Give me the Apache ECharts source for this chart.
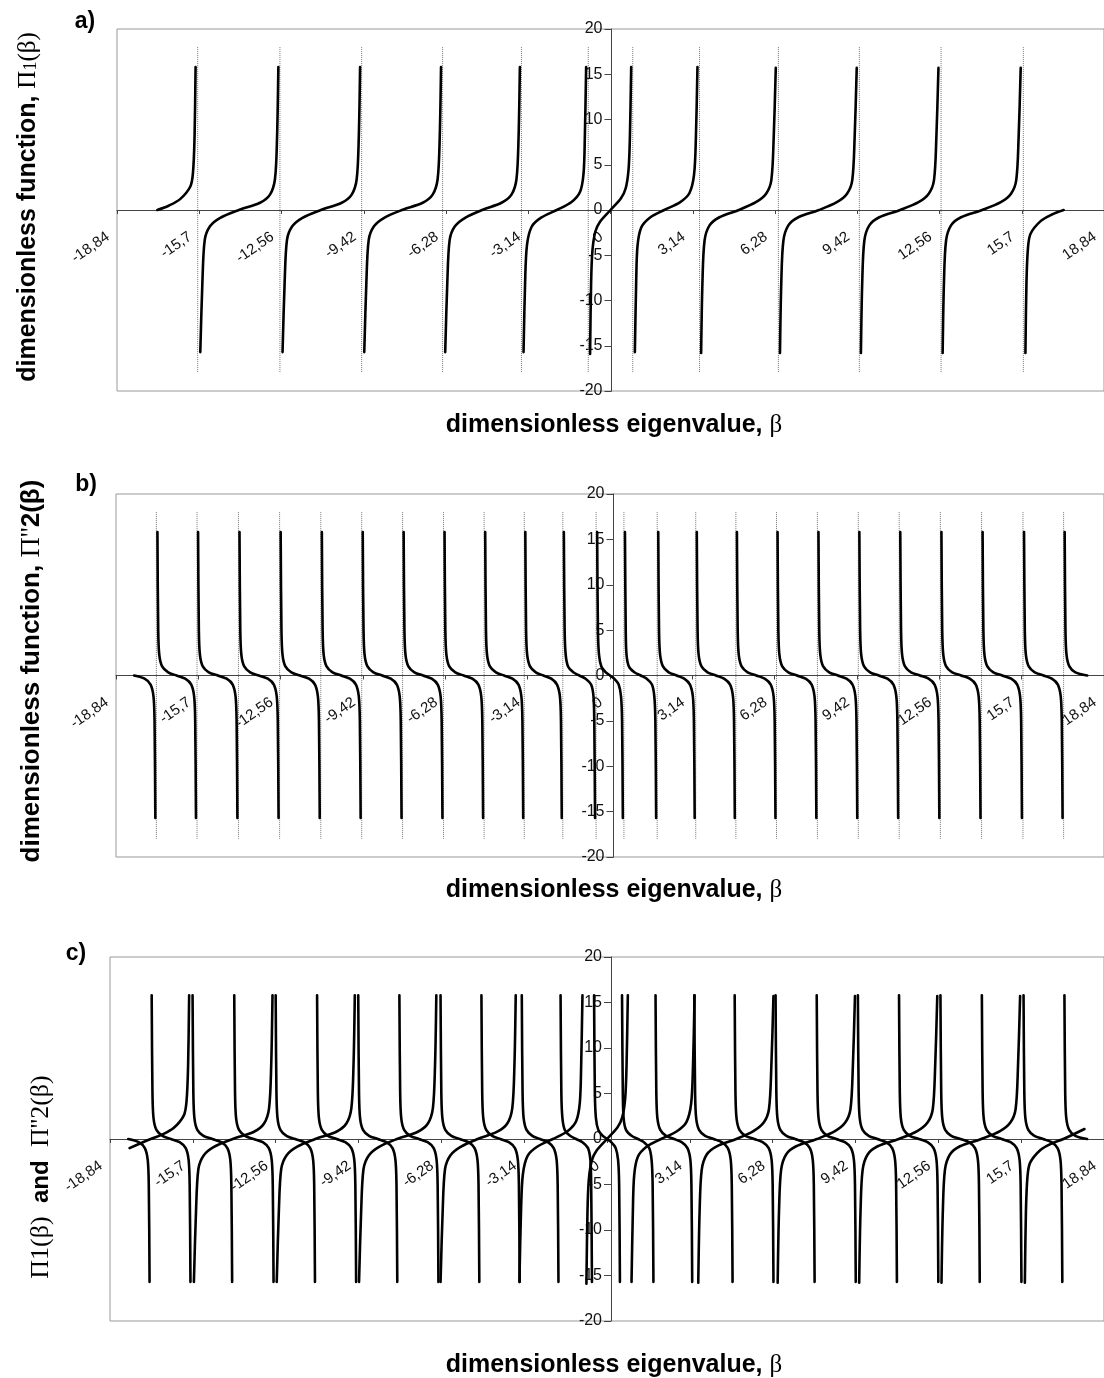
<!DOCTYPE html>
<html>
<head>
<meta charset="utf-8">
<script src="https://cdn.jsdelivr.net/npm/echarts@6/dist/echarts.min.js"></script>
<style>
  html, body { margin: 0; padding: 0; background: #fff; }
  #container { width: 1104px; height: 1378px; }
</style>
</head>
<body>
<div id="container"></div>
<script>
// x positions of the poles (dotted guide lines) read off panels a) and b)
var pi1Poles = [-15.76, -12.62, -9.5, -6.41, -3.4, -0.85, 0.85, 3.4, 6.41, 9.5, 12.62, 15.76];
var pi2Poles = [-17.3, -15.75, -14.17, -12.6, -11.03, -9.47, -7.91, -6.35, -4.8, -3.27, -1.8, -0.53,
                0.53, 1.8, 3.27, 4.8, 6.35, 7.91, 9.47, 11.03, 12.6, 14.17, 15.75, 17.3];
var poleSpan = [18, -18];

// Π1(β), one array of [β, value] per branch
var pi1Branches = [
  [[-17.3, 0], [-16.85, 0.5], [-16.43, 1.2], [-16.04, 2.6], [-15.94, 4.1], [-15.88, 8], [-15.84, 15.8]],
  [[-15.66, -15.7], [-15.58, -8], [-15.49, -3.3], [-15.29, -1.8], [-14.9, -0.86], [-14.19, 0], [-13.38, 0.8], [-13.0, 1.7], [-12.81, 3.4], [-12.73, 8], [-12.68, 15.8]],
  [[-12.52, -15.7], [-12.44, -8], [-12.35, -3.3], [-12.15, -1.8], [-11.76, -0.86], [-11.06, 0], [-10.26, 0.8], [-9.88, 1.7], [-9.69, 3.4], [-9.61, 8], [-9.56, 15.8]],
  [[-9.4, -15.7], [-9.32, -8], [-9.23, -3.3], [-9.03, -1.8], [-8.64, -0.86], [-7.96, 0], [-7.17, 0.8], [-6.79, 1.7], [-6.6, 3.4], [-6.52, 8], [-6.47, 15.8]],
  [[-6.31, -15.7], [-6.23, -8], [-6.14, -3.3], [-5.94, -1.8], [-5.55, -0.86], [-4.9, 0], [-4.16, 0.8], [-3.78, 1.7], [-3.59, 3.4], [-3.51, 8], [-3.46, 15.8]],
  [[-3.32, -15.7], [-3.26, -8], [-3.19, -3.9], [-3.01, -1.85], [-2.65, -0.85], [-2.05, 0], [-1.5, 0.85], [-1.17, 1.95], [-1.03, 4.0], [-0.98, 8], [-0.93, 15.8]],
  [[-0.78, -15.9], [-0.74, -8], [-0.69, -4.5], [-0.58, -2.4], [-0.4, -1.3], [0, 0], [0.4, 1.3], [0.58, 2.4], [0.69, 4.5], [0.74, 8], [0.79, 15.8]],
  [[0.93, -15.7], [0.98, -8], [1.03, -4.0], [1.17, -1.95], [1.5, -0.85], [2.05, 0], [2.65, 0.85], [3.01, 1.85], [3.19, 3.9], [3.26, 8], [3.32, 15.8]],
  [[3.46, -15.8], [3.51, -8], [3.59, -3.4], [3.78, -1.7], [4.16, -0.8], [4.9, 0], [5.55, 0.86], [5.94, 1.8], [6.14, 3.3], [6.23, 8], [6.31, 15.7]],
  [[6.47, -15.8], [6.52, -8], [6.6, -3.4], [6.79, -1.7], [7.17, -0.8], [7.96, 0], [8.64, 0.86], [9.03, 1.8], [9.23, 3.3], [9.32, 8], [9.4, 15.7]],
  [[9.56, -15.8], [9.61, -8], [9.69, -3.4], [9.88, -1.7], [10.26, -0.8], [11.06, 0], [11.76, 0.86], [12.15, 1.8], [12.35, 3.3], [12.44, 8], [12.52, 15.7]],
  [[12.68, -15.8], [12.73, -8], [12.81, -3.4], [13.0, -1.7], [13.38, -0.8], [14.19, 0], [14.9, 0.86], [15.29, 1.8], [15.49, 3.3], [15.58, 8], [15.66, 15.7]],
  [[15.84, -15.8], [15.88, -8], [15.94, -4.1], [16.04, -2.6], [16.43, -1.2], [16.85, -0.5], [17.3, 0]]
];
// panel c) draws Π1 a little further at both ends
var pi1TailsC = [[-18.1, -1.0], [18.1, 1.1]];

// Π''2(β), one array of [β, value] per branch
var pi2Branches = [
  [[-18.15, 0], [-17.75, -0.35], [-17.52, -1.0], [-17.41, -2.3], [-17.37, -5], [-17.34, -15.7]],
  [[-17.26, 15.8], [-17.23, 5], [-17.19, 2.3], [-17.08, 1.0], [-16.85, 0.35], [-16.53, 0], [-16.2, -0.35], [-15.97, -1.0], [-15.86, -2.3], [-15.82, -5], [-15.79, -15.7]],
  [[-15.71, 15.8], [-15.68, 5], [-15.64, 2.3], [-15.53, 1.0], [-15.3, 0.35], [-14.96, 0], [-14.62, -0.35], [-14.39, -1.0], [-14.28, -2.3], [-14.24, -5], [-14.21, -15.7]],
  [[-14.13, 15.8], [-14.1, 5], [-14.06, 2.3], [-13.95, 1.0], [-13.72, 0.35], [-13.39, 0], [-13.05, -0.35], [-12.82, -1.0], [-12.71, -2.3], [-12.67, -5], [-12.64, -15.7]],
  [[-12.56, 15.8], [-12.53, 5], [-12.49, 2.3], [-12.38, 1.0], [-12.15, 0.35], [-11.82, 0], [-11.48, -0.35], [-11.25, -1.0], [-11.14, -2.3], [-11.1, -5], [-11.07, -15.7]],
  [[-10.99, 15.8], [-10.96, 5], [-10.92, 2.3], [-10.81, 1.0], [-10.58, 0.35], [-10.25, 0], [-9.92, -0.35], [-9.69, -1.0], [-9.58, -2.3], [-9.54, -5], [-9.51, -15.7]],
  [[-9.43, 15.8], [-9.4, 5], [-9.36, 2.3], [-9.25, 1.0], [-9.02, 0.35], [-8.69, 0], [-8.36, -0.35], [-8.13, -1.0], [-8.02, -2.3], [-7.98, -5], [-7.95, -15.7]],
  [[-7.87, 15.8], [-7.84, 5], [-7.8, 2.3], [-7.69, 1.0], [-7.46, 0.35], [-7.13, 0], [-6.8, -0.35], [-6.57, -1.0], [-6.46, -2.3], [-6.42, -5], [-6.39, -15.7]],
  [[-6.31, 15.8], [-6.28, 5], [-6.24, 2.3], [-6.13, 1.0], [-5.9, 0.35], [-5.58, 0], [-5.25, -0.35], [-5.02, -1.0], [-4.91, -2.3], [-4.87, -5], [-4.84, -15.7]],
  [[-4.76, 15.8], [-4.73, 5], [-4.69, 2.3], [-4.58, 1.0], [-4.35, 0.35], [-4.04, 0], [-3.72, -0.35], [-3.49, -1.0], [-3.38, -2.3], [-3.34, -5], [-3.31, -15.7]],
  [[-3.23, 15.8], [-3.2, 5], [-3.16, 2.3], [-3.05, 1.0], [-2.83, 0.35], [-2.54, 0], [-2.24, -0.35], [-2.02, -1.0], [-1.91, -2.3], [-1.87, -5], [-1.84, -15.7]],
  [[-1.76, 15.8], [-1.73, 5], [-1.69, 2.3], [-1.6, 1.0], [-1.4, 0.35], [-1.17, 0], [-0.93, -0.35], [-0.72, -1.0], [-0.63, -2.3], [-0.6, -5], [-0.57, -15.7]],
  [[-0.49, 15.8], [-0.46, 5], [-0.42, 2.3], [-0.33, 1.0], [-0.16, 0.35], [0, 0], [0.16, -0.35], [0.33, -1.0], [0.42, -2.3], [0.46, -5], [0.49, -15.7]],
  [[0.57, 15.8], [0.6, 5], [0.63, 2.3], [0.72, 1.0], [0.93, 0.35], [1.17, 0], [1.4, -0.35], [1.6, -1.0], [1.69, -2.3], [1.73, -5], [1.76, -15.7]],
  [[1.84, 15.8], [1.87, 5], [1.91, 2.3], [2.02, 1.0], [2.24, 0.35], [2.54, 0], [2.83, -0.35], [3.05, -1.0], [3.16, -2.3], [3.2, -5], [3.23, -15.7]],
  [[3.31, 15.8], [3.34, 5], [3.38, 2.3], [3.49, 1.0], [3.72, 0.35], [4.04, 0], [4.35, -0.35], [4.58, -1.0], [4.69, -2.3], [4.73, -5], [4.76, -15.7]],
  [[4.84, 15.8], [4.87, 5], [4.91, 2.3], [5.02, 1.0], [5.25, 0.35], [5.58, 0], [5.9, -0.35], [6.13, -1.0], [6.24, -2.3], [6.28, -5], [6.31, -15.7]],
  [[6.39, 15.8], [6.42, 5], [6.46, 2.3], [6.57, 1.0], [6.8, 0.35], [7.13, 0], [7.46, -0.35], [7.69, -1.0], [7.8, -2.3], [7.84, -5], [7.87, -15.7]],
  [[7.95, 15.8], [7.98, 5], [8.02, 2.3], [8.13, 1.0], [8.36, 0.35], [8.69, 0], [9.02, -0.35], [9.25, -1.0], [9.36, -2.3], [9.4, -5], [9.43, -15.7]],
  [[9.51, 15.8], [9.54, 5], [9.58, 2.3], [9.69, 1.0], [9.92, 0.35], [10.25, 0], [10.58, -0.35], [10.81, -1.0], [10.92, -2.3], [10.96, -5], [10.99, -15.7]],
  [[11.07, 15.8], [11.1, 5], [11.14, 2.3], [11.25, 1.0], [11.48, 0.35], [11.82, 0], [12.15, -0.35], [12.38, -1.0], [12.49, -2.3], [12.53, -5], [12.56, -15.7]],
  [[12.64, 15.8], [12.67, 5], [12.71, 2.3], [12.82, 1.0], [13.05, 0.35], [13.39, 0], [13.72, -0.35], [13.95, -1.0], [14.06, -2.3], [14.1, -5], [14.13, -15.7]],
  [[14.21, 15.8], [14.24, 5], [14.28, 2.3], [14.39, 1.0], [14.62, 0.35], [14.96, 0], [15.3, -0.35], [15.53, -1.0], [15.64, -2.3], [15.68, -5], [15.71, -15.7]],
  [[15.79, 15.8], [15.82, 5], [15.86, 2.3], [15.97, 1.0], [16.2, 0.35], [16.53, 0], [16.85, -0.35], [17.08, -1.0], [17.19, -2.3], [17.23, -5], [17.26, -15.7]],
  [[17.34, 15.8], [17.37, 5], [17.41, 2.3], [17.52, 1.0], [17.75, 0.35], [18.2, 0]]
];

var SANS = '"Liberation Sans", Arial, sans-serif';
var SERIF = '"Liberation Serif", "Times New Roman", serif';

// plot boxes of the three panels (pixels)
var boxes = [
  { left: 117, top: 29, width: 989, height: 362 },
  { left: 116, top: 494, width: 995, height: 363 },
  { left: 110, top: 957, width: 1002, height: 364 }
];

function joinBranches(branches) {
  var out = [];
  branches.forEach(function (b, i) {
    if (i > 0) out.push([null, null]);
    b.forEach(function (p) { out.push(p); });
  });
  return out;
}

function poleSegments(poles) {
  var out = [];
  poles.forEach(function (x, i) {
    if (i > 0) out.push([null, null]);
    out.push([x, poleSpan[0]], [x, poleSpan[1]]);
  });
  return out;
}

function betaLabel(v) {
  return String(Math.round(v * 100) / 100).replace('.', ',');
}

// axes cross in the middle of each box; offsets pull the labels there too
function xAxisFor(gi) {
  return {
    gridIndex: gi, type: 'value', min: -18.84, max: 18.84, interval: 3.14,
    position: 'bottom', offset: -boxes[gi].height / 2,
    axisLine: { onZero: false, lineStyle: { color: '#444', width: 1 } },
    axisTick: { show: true, length: 4, lineStyle: { color: '#444' } },
    axisLabel: {
      rotate: 35, margin: 19, padding: [0, 11, 0, 0],
      fontSize: 15, color: '#111', fontFamily: SANS, formatter: betaLabel
    },
    splitLine: { show: false }
  };
}

function yAxisFor(gi) {
  return {
    gridIndex: gi, type: 'value', min: -20, max: 20, interval: 5,
    position: 'left', offset: -boxes[gi].width / 2,
    axisLine: { onZero: false, lineStyle: { color: '#444', width: 1 } },
    axisTick: { show: true, length: 7, lineStyle: { color: '#444' } },
    axisLabel: { margin: 9, fontSize: 16, color: '#111', fontFamily: SANS },
    splitLine: { show: false }
  };
}

function curve(gi, data) {
  return {
    type: 'line', xAxisIndex: gi, yAxisIndex: gi, data: data,
    showSymbol: false, symbol: 'none', smooth: 0.3,
    connectNulls: false, silent: true, z: 3,
    lineStyle: { color: '#000', width: 2.6, join: 'round', cap: 'round' }
  };
}

function guides(gi, poles) {
  return {
    type: 'line', xAxisIndex: gi, yAxisIndex: gi, data: poleSegments(poles),
    showSymbol: false, symbol: 'none', connectNulls: false, silent: true, z: 1,
    lineStyle: { color: '#777', width: 1, type: 'dotted' }
  };
}

function xTitle(y) {
  return {
    type: 'text', x: 614, y: y,
    style: {
      text: '{b|dimensionless eigenvalue, }{g|β}',
      align: 'center', verticalAlign: 'middle',
      rich: {
        b: { font: 'bold 25px ' + SANS, fill: '#000' },
        g: { font: '25px ' + SERIF, fill: '#000' }
      }
    }
  };
}

function panelTag(text, x, y) {
  return {
    type: 'text', x: x, y: y,
    style: { text: text, font: 'bold 23px ' + SANS, fill: '#000', align: 'center', verticalAlign: 'middle' }
  };
}

function yTitle(text, x, y) {
  return {
    type: 'text', x: x, y: y, rotation: Math.PI / 2,
    style: {
      text: text, align: 'center', verticalAlign: 'middle',
      rich: {
        b: { font: 'bold 25px ' + SANS, fill: '#000' },
        s: { font: '25px ' + SERIF, fill: '#000' },
        n: { font: '18px ' + SERIF, fill: '#000', verticalAlign: 'bottom' },
        b2: { font: 'bold 26px ' + SANS, fill: '#000' },
        s2: { font: '28px ' + SERIF, fill: '#000' },
        bc: { font: 'bold 24px ' + SANS, fill: '#000' },
        sc: { font: '26px ' + SERIF, fill: '#000' }
      }
    }
  };
}

var pi1C = pi1Branches.map(function (b) { return b.slice(); });
pi1C[0].unshift(pi1TailsC[0]);
pi1C[pi1C.length - 1].push(pi1TailsC[1]);

var chart = echarts.init(document.getElementById('container'), null, { renderer: 'canvas' });

chart.setOption({
  animation: false,
  backgroundColor: '#fff',
  grid: boxes.map(function (b) {
    return { left: b.left, top: b.top, width: b.width, height: b.height,
             show: true, borderColor: '#999', borderWidth: 1 };
  }),
  xAxis: [xAxisFor(0), xAxisFor(1), xAxisFor(2)],
  yAxis: [yAxisFor(0), yAxisFor(1), yAxisFor(2)],
  series: [
    guides(0, pi1Poles),
    curve(0, joinBranches(pi1Branches)),
    guides(1, pi2Poles),
    curve(1, joinBranches(pi2Branches)),
    curve(2, joinBranches(pi1C)),
    curve(2, joinBranches(pi2Branches))
  ],
  graphic: [
    panelTag('a)', 85, 22),
    panelTag('b)', 86, 485),
    panelTag('c)', 76, 954),
    yTitle('{b|dimensionless function, }{s|Π}{n|1}{s|(β)}', 28, 207),
    yTitle('{b2|dimensionless function, }{s2|Π\'\'}{b2|2(β)}', 32, 671),
    yTitle('{sc|Π1(β)}{bc|  and  }{sc|Π\'\'2(β)}', 41, 1177),
    xTitle(425),
    xTitle(890),
    xTitle(1365)
  ]
});

window.addEventListener('resize', function () { chart.resize(); });
</script>
</body>
</html>
